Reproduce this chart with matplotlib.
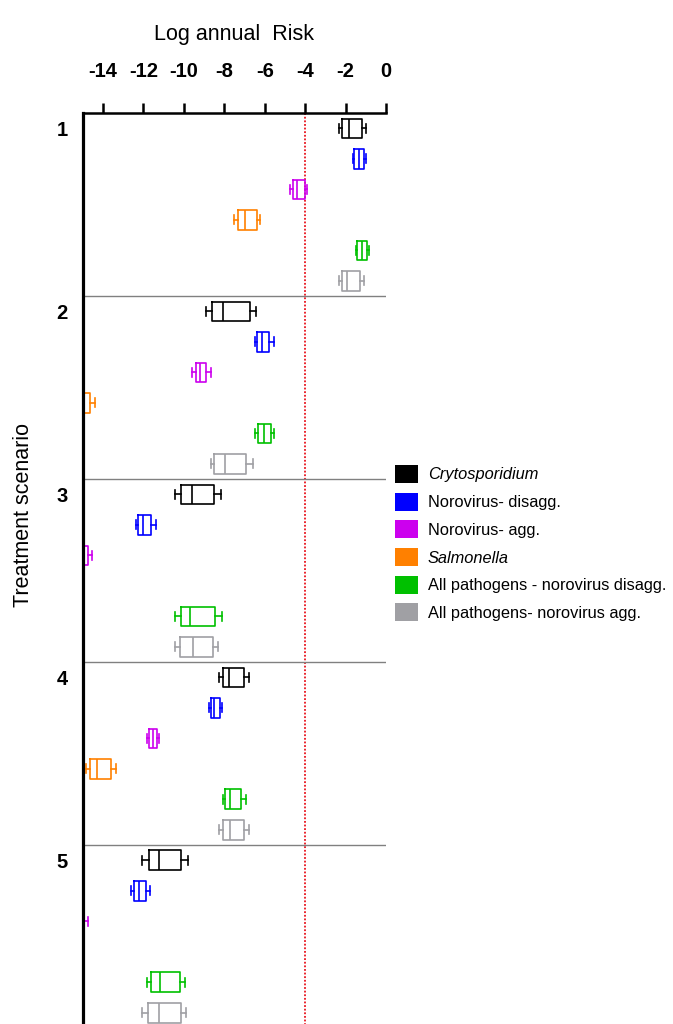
import numpy as np
import matplotlib
matplotlib.use("Agg")
import matplotlib.pyplot as plt
from matplotlib.patches import Patch

plt.rcParams['font.family'] = ['Liberation Sans', 'DejaVu Sans']

###################
# Data (log annual risk), one entry per treatment scenario 1..5
# each entry: (whisker low, q1, median, q3, whisker high)
###################

scenarios = ['1', '2', '3', '4', '5']

crypto = [(-2.35, -2.19, -1.81, -1.20, -0.99),
          (-8.88, -8.60, -8.08, -6.74, -6.41),
          (-10.46, -10.13, -9.59, -8.49, -8.16),
          (-8.27, -8.08, -7.75, -7.04, -6.76),
          (-12.05, -11.73, -11.23, -10.13, -9.80)]

noro_disagg = [(-1.64, -1.58, -1.33, -1.09, -0.99),
               (-6.50, -6.38, -6.13, -5.77, -5.56),
               (-12.38, -12.25, -12.00, -11.61, -11.39),
               (-8.77, -8.68, -8.49, -8.19, -8.10),
               (-12.60, -12.47, -12.22, -11.89, -11.69)]

noro_agg = [(-4.74, -4.62, -4.38, -4.03, -3.91),
            (-9.59, -9.42, -9.21, -8.88, -8.68),
            (-15.50, -15.30, -15.05, -14.74, -14.52),
            (-11.80, -11.73, -11.53, -11.31, -11.23),
            (-15.60, -15.40, -15.20, -15.05, -14.72)]

salmonella = [(-7.53, -7.34, -6.99, -6.38, -6.22),
              (-15.50, -15.20, -14.95, -14.64, -14.39),
              (-16.20, -15.80, -15.40, -14.94, -14.94),
              (-14.85, -14.65, -14.27, -13.62, -13.37),
              (-16.20, -15.80, -15.40, -14.94, -14.94)]

all_disagg = [(-1.48, -1.42, -1.20, -0.92, -0.82),
              (-6.50, -6.35, -6.05, -5.69, -5.53),
              (-10.46, -10.16, -9.67, -8.44, -8.10),
              (-8.08, -7.98, -7.70, -7.15, -6.92),
              (-11.84, -11.64, -11.18, -10.21, -9.92)]

all_agg = [(-2.35, -2.19, -1.94, -1.28, -1.09),
           (-8.68, -8.49, -7.98, -6.92, -6.58),
           (-10.46, -10.21, -9.55, -8.57, -8.32),
           (-8.27, -8.08, -7.70, -7.04, -6.76),
           (-12.05, -11.78, -11.23, -10.16, -9.87)]

series = [crypto, noro_disagg, noro_agg, salmonella, all_disagg, all_agg]
labels = ['Crytosporidium', 'Norovirus- disagg.', 'Norovirus- agg.', 'Salmonella',
          'All pathogens - norovirus disagg.', 'All pathogens- norovirus agg.']
italic = [True, False, False, True, False, False]
colors = ['#000000', '#0000ff', '#cc00ee', '#ff8000', '#00c000', '#a0a0a4']

risk_threshold = -4
xticks = [-14, -12, -10, -8, -6, -4, -2, 0]

###################
# Plot
###################

fig = plt.figure(figsize=(6.73, 10.24), dpi=100)
ax = fig.add_axes([0.1229, -0.0039, 0.4507, 0.8935])

n_ser = len(series)
for j, ser in enumerate(series):
    stats = []
    pos = []
    for i, (lo, q1, med, q3, hi) in enumerate(ser):
        stats.append(dict(whislo=lo, q1=q1, med=med, q3=q3, whishi=hi, fliers=[]))
        pos.append(i * n_ser + j)
    style = dict(color=colors[j], linewidth=1.2)
    ax.bxp(stats, positions=pos, vert=False, widths=0.64, showfliers=False,
           boxprops=style, medianprops=style, whiskerprops=style,
           capprops=style, capwidths=0.3, manage_ticks=False)

# scenario separators
for i in range(1, len(scenarios)):
    ax.axhline(i * n_ser - 0.5, color='#808080', linewidth=1.0, zorder=1)

# risk threshold
ax.axvline(risk_threshold, color='#e8141e', linestyle=(0, (1.0, 1.0)), linewidth=1.3, zorder=0)

ax.set_xlim(-15, 0)
ax.set_ylim(len(scenarios) * n_ser - 0.5, -0.5)

ax.xaxis.tick_top()
ax.xaxis.set_label_position('top')
ax.set_xticks(xticks)
ax.set_xticklabels([str(t) for t in xticks], fontweight='bold', fontsize=14.5)
ax.tick_params(axis='x', direction='out', length=7, width=1.8, pad=16)
ax.set_xlabel('Log annual  Risk', fontsize=15.5, labelpad=16)

ax.set_yticks([i * n_ser for i in range(len(scenarios))])
ax.set_yticklabels(scenarios, fontweight='bold', fontsize=14.5)
ax.tick_params(axis='y', length=0, pad=11)

ax.spines['right'].set_visible(False)
ax.spines['bottom'].set_visible(False)
ax.spines['left'].set_linewidth(2.3)
ax.spines['top'].set_linewidth(1.8)

fig.text(24 / 673, 1 - 515 / 1024, 'Treatment scenario', rotation=90,
         fontsize=15.5, ha='center', va='center')

handles = [Patch(facecolor=c, edgecolor='none') for c in colors]
leg = fig.legend(handles, labels, loc='upper left', bbox_to_anchor=(395 / 673, 1 - 465 / 1024),
                 frameon=False, fontsize=11.8, handlelength=1.4, handleheight=1.3,
                 labelspacing=0.6, handletextpad=0.6, borderaxespad=0, borderpad=0)
for t, it in zip(leg.get_texts(), italic):
    if it:
        t.set_fontstyle('italic')

fig.savefig('out.png', dpi=100)
